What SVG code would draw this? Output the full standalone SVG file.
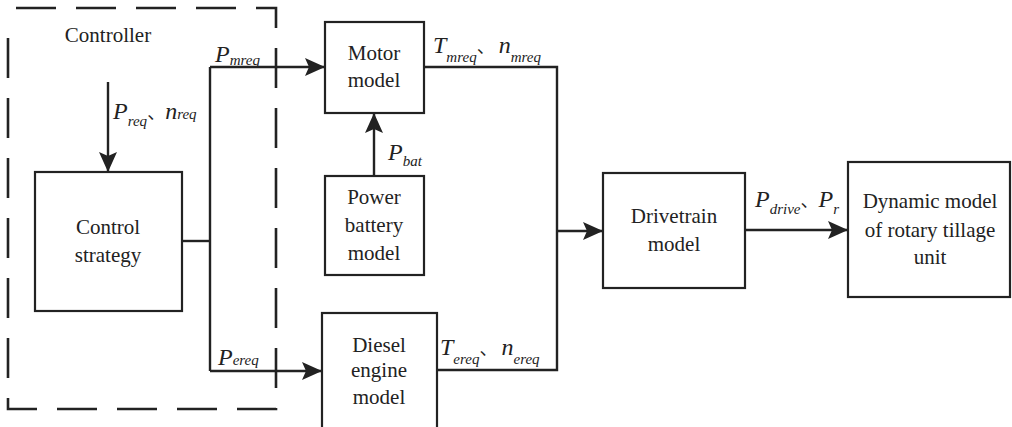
<svg xmlns="http://www.w3.org/2000/svg" width="1012" height="427" viewBox="0 0 1012 427" font-family="Liberation Serif, Times New Roman, serif">
<style>
.box{fill:none;stroke:#222;stroke-width:2.2}
.ln{fill:none;stroke:#222;stroke-width:2.4}
.dash{fill:none;stroke:#222;stroke-width:2.6;stroke-dasharray:40 20}
.t{font-size:21px;fill:#222;text-anchor:middle}
.v{font-size:24px;font-style:italic;fill:#222}
.s{font-size:15px}
.c{font-style:normal;font-size:18px}
</style>
<defs>
<marker id="ah" markerWidth="20" markerHeight="20" viewBox="0 0 20 20" refX="20" refY="10" orient="auto" markerUnits="userSpaceOnUse">
<path d="M0,1 L20,10 L0,19 L4,10 Z" fill="#222"/>
</marker>
</defs>
<rect width="1012" height="427" fill="#fff"/>

<g id="controller">
<path class="dash" d="M16,8 H276 V409 H8 V22"/>
<text class="t" x="108" y="42">Controller</text>
</g>

<g id="connectors">
<path class="ln" d="M108,82 V172" marker-end="url(#ah)"/>
<path class="ln" d="M182,241 H210"/>
<path class="ln" d="M210,67 V371"/>
<path class="ln" d="M210,67 H325" marker-end="url(#ah)"/>
<path class="ln" d="M210,371 H322" marker-end="url(#ah)"/>
<path class="ln" d="M374,176 V113" marker-end="url(#ah)"/>
<path class="ln" d="M424,67 H557 V370 H437"/>
<path class="ln" d="M557,231 H603" marker-end="url(#ah)"/>
<path class="ln" d="M745,230 H848" marker-end="url(#ah)"/>
</g>

<g id="labels">
<text class="v" x="113" y="119">P<tspan class="s" dy="7">req</tspan><tspan class="c" font-family="Noto Sans CJK SC, sans-serif" dy="-7">、</tspan>n<tspan class="s" dy="0">req</tspan></text>
<text class="v" x="215" y="62">P<tspan class="s" dy="3">mreq</tspan></text>
<text class="v" x="218" y="365">P<tspan class="s" dy="0">ereq</tspan></text>
<text class="v" x="433" y="53">T<tspan class="s" dy="9">mreq</tspan><tspan class="c" font-family="Noto Sans CJK SC, sans-serif" dy="-9">、</tspan><tspan dx="4">n</tspan><tspan class="s" dy="9">mreq</tspan></text>
<text class="v" x="388" y="160">P<tspan class="s" dy="6">bat</tspan></text>
<text class="v" x="440" y="355">T<tspan class="s" dy="9">ereq</tspan><tspan class="c" font-family="Noto Sans CJK SC, sans-serif" dy="-9">、</tspan><tspan dx="4">n</tspan><tspan class="s" dy="9">ereq</tspan></text>
<text class="v" x="755" y="207">P<tspan class="s" dy="7">drive</tspan><tspan class="c" font-family="Noto Sans CJK SC, sans-serif" dy="-7">、</tspan>P<tspan class="s" dy="7">r</tspan></text>
</g>

<g id="control-strategy">
<rect class="box" x="35" y="172" width="147" height="139"/>
<text class="t" x="108" y="234">Control</text>
<text class="t" x="108" y="262">strategy</text>
</g>

<g id="motor-model">
<rect class="box" x="325" y="22" width="99" height="91"/>
<text class="t" x="374" y="60">Motor</text>
<text class="t" x="374" y="87">model</text>
</g>

<g id="power-battery-model">
<rect class="box" x="325" y="176" width="99" height="99"/>
<text class="t" x="374" y="204">Power</text>
<text class="t" x="374" y="232">battery</text>
<text class="t" x="374" y="260">model</text>
</g>

<g id="diesel-engine-model">
<rect class="box" x="322" y="313" width="115" height="125"/>
<text class="t" x="379" y="352">Diesel</text>
<text class="t" x="379" y="377">engine</text>
<text class="t" x="379" y="404">model</text>
</g>

<g id="drivetrain-model">
<rect class="box" x="603" y="173" width="142" height="115"/>
<text class="t" x="674" y="223">Drivetrain</text>
<text class="t" x="674" y="251">model</text>
</g>

<g id="dynamic-model">
<rect class="box" x="848" y="162" width="162" height="135"/>
<text class="t" x="930" y="208">Dynamic model</text>
<text class="t" x="930" y="237">of rotary tillage</text>
<text class="t" x="930" y="264">unit</text>
</g>
</svg>
